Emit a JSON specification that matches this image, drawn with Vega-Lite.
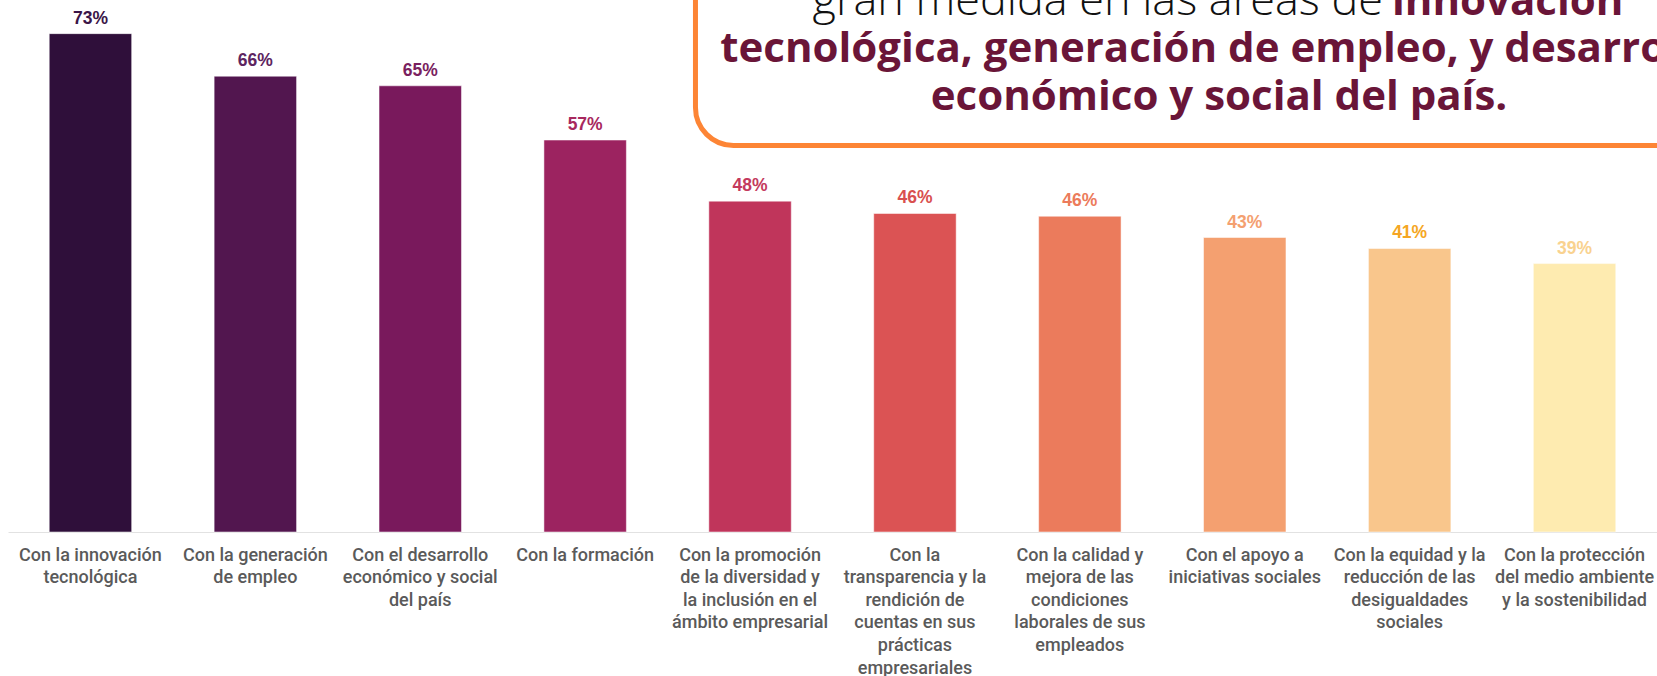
{
  "$schema": "https://vega.github.io/schema/vega-lite/v6.json",
  "autosize": {"type": "none"},
  "width": 1649,
  "height": 532,
  "padding": {"left": 8, "top": 0, "right": 0, "bottom": 144},
  "background": "white",
  "config": {"view": {"stroke": null}},
  "resolve": {"scale": {"x": "independent", "color": "independent"}, "axis": {"x": "independent"}},
  "layer": [
    {
      "data": {"values": [
        {"cat": "Con la innovación|tecnológica", "value": 0.726},
        {"cat": "Con la generación|de empleo", "value": 0.664},
        {"cat": "Con el desarrollo|económico y social|del país", "value": 0.650},
        {"cat": "Con la formación", "value": 0.571},
        {"cat": "Con la promoción|de la diversidad y|la inclusión en el|ámbito empresarial", "value": 0.482},
        {"cat": "Con la|transparencia y la|rendición de|cuentas en sus|prácticas|empresariales", "value": 0.464},
        {"cat": "Con la calidad y|mejora de las|condiciones|laborales de sus|empleados", "value": 0.460},
        {"cat": "Con el apoyo a|iniciativas sociales", "value": 0.429},
        {"cat": "Con la equidad y la|reducción de las|desigualdades|sociales", "value": 0.413},
        {"cat": "Con la protección|del medio ambiente|y la sostenibilidad", "value": 0.391}
      ]},
      "resolve": {"scale": {"color": "independent"}},
      "encoding": {
        "x": {"field": "cat", "type": "nominal", "sort": null,
          "scale": {"paddingInner": 0.5, "paddingOuter": 0.25},
          "axis": {"title": null, "labelAngle": 0, "ticks": false,
            "domainColor": "#e2e2e2", "domainWidth": 1,
            "labelExpr": "split(datum.label, '|')",
            "labelFont": "Roboto", "labelFontSize": 18, "labelFontWeight": 500,
            "labelColor": "#5a5a5a", "labelLineHeight": 22.6, "labelPadding": 14,
            "labelLimit": 400, "labelOverlap": false, "labelBound": false, "labelFlush": false}},
        "y": {"field": "value", "type": "quantitative",
          "scale": {"domain": [0, 0.775], "nice": false, "zero": true}, "axis": null}
      },
      "layer": [
        {
          "mark": {"type": "bar", "stroke": "#ffffff", "strokeOpacity": 0.5, "strokeWidth": 1},
          "encoding": {
            "color": {"field": "cat", "type": "nominal", "sort": null, "legend": null,
              "scale": {"range": ["#2f0f3a", "#52164f", "#79195c", "#9c2360", "#c0355b", "#db5354", "#eb7b5c", "#f4a070", "#f9c68c", "#feebb0"]}}
          }
        },
        {
          "mark": {"type": "text", "font": "Liberation Sans", "fontWeight": "bold", "fontSize": 17.5, "baseline": "alphabetic", "dy": -10},
          "encoding": {
            "text": {"field": "value", "type": "quantitative", "format": ".0%"},
            "color": {"field": "cat", "type": "nominal", "sort": null, "legend": null,
              "scale": {"range": ["#3b1548", "#5d2560", "#7a1f5f", "#a8285e", "#c43a5d", "#d9504f", "#ec7b5b", "#f4a070", "#f5a623", "#f9d28f"]}}
          }
        }
      ]
    },
    {
      "layer": [
        {
          "data": {"values": [{"x": 4.169, "x2": 11, "y": 0.563, "y2": 0.95}]},
          "mark": {"type": "rect", "fill": "#ffffff", "stroke": "#fd8535", "strokeWidth": 5, "cornerRadius": 38},
          "encoding": {
            "x": {"field": "x", "type": "quantitative", "scale": {"domain": [0, 10], "nice": false, "zero": true}, "axis": null},
            "x2": {"field": "x2"},
            "y": {"field": "y", "type": "quantitative", "scale": {"domain": [0, 0.775], "nice": false, "zero": true}, "axis": null},
            "y2": {"field": "y2"}
          }
        },
        {
          "data": {"values": [{"x": 8.338, "y": 0.753, "t": "gran medida en las áreas de"}]},
          "mark": {"type": "text", "font": "Open Sans", "fontWeight": 300, "fontSize": 45, "align": "right", "baseline": "alphabetic", "color": "#111111"},
          "encoding": {
            "x": {"field": "x", "type": "quantitative", "scale": {"domain": [0, 10], "nice": false, "zero": true}, "axis": null},
            "y": {"field": "y", "type": "quantitative", "scale": {"domain": [0, 0.775], "nice": false, "zero": true}, "axis": null},
            "text": {"field": "t"}
          }
        },
        {
          "data": {"values": [{"x": 8.393, "y": 0.753, "t": "innovación"}]},
          "mark": {"type": "text", "font": "Open Sans", "fontWeight": "bold", "fontSize": 42, "align": "left", "baseline": "alphabetic", "color": "#6a1538"},
          "encoding": {
            "x": {"field": "x", "type": "quantitative", "scale": {"domain": [0, 10], "nice": false, "zero": true}, "axis": null},
            "y": {"field": "y", "type": "quantitative", "scale": {"domain": [0, 0.775], "nice": false, "zero": true}, "axis": null},
            "text": {"field": "t"}
          }
        },
        {
          "data": {"values": [
            {"x": 7.344, "y": 0.6846, "t": "tecnológica, generación de empleo, y desarrollo"},
            {"x": 7.344, "y": 0.6147, "t": "económico y social del país."}
          ]},
          "mark": {"type": "text", "font": "Open Sans", "fontWeight": "bold", "fontSize": 42, "align": "center", "baseline": "alphabetic", "color": "#6a1538"},
          "encoding": {
            "x": {"field": "x", "type": "quantitative", "scale": {"domain": [0, 10], "nice": false, "zero": true}, "axis": null},
            "y": {"field": "y", "type": "quantitative", "scale": {"domain": [0, 0.775], "nice": false, "zero": true}, "axis": null},
            "text": {"field": "t"}
          }
        }
      ]
    }
  ]
}
